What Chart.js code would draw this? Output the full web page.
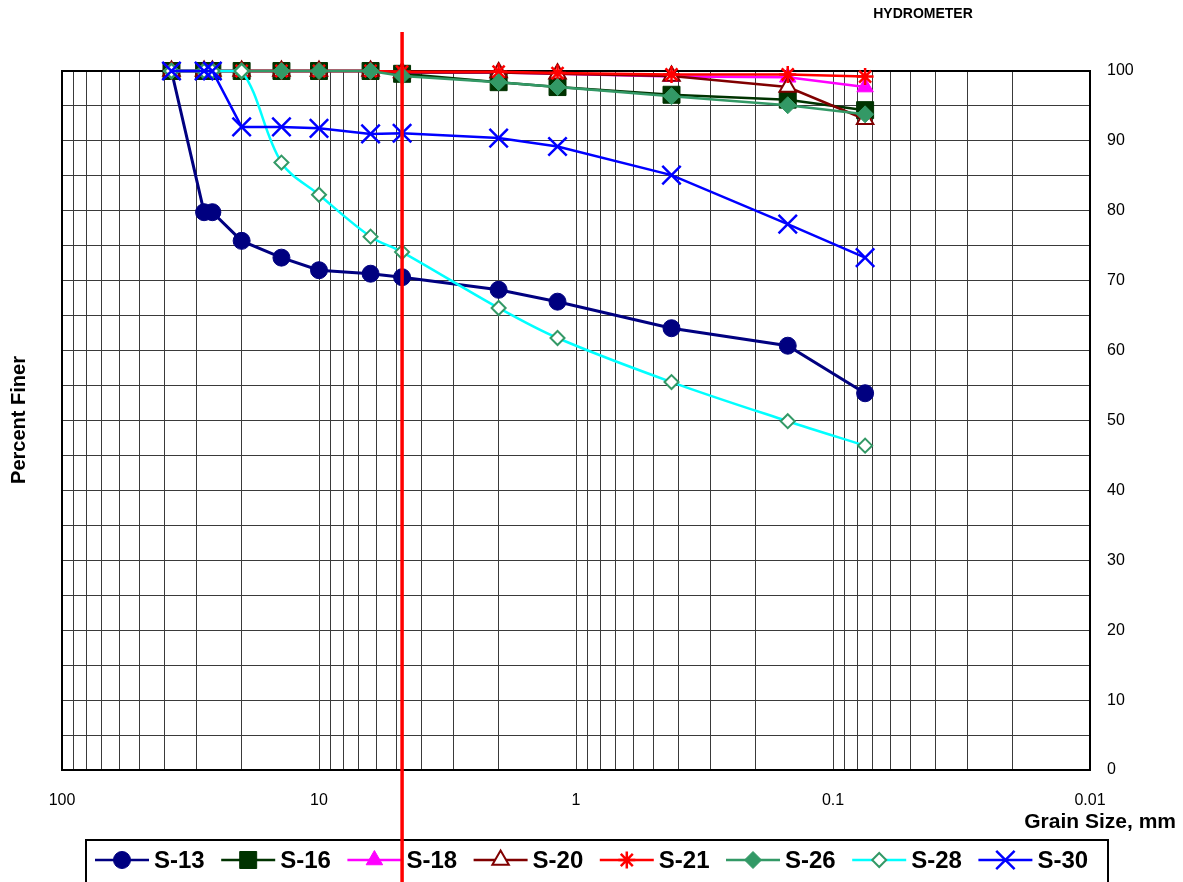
<!DOCTYPE html>
<html><head><meta charset="utf-8">
<script src="https://cdn.jsdelivr.net/npm/chart.js@4/dist/chart.umd.min.js"></script>
<style>html,body{margin:0;padding:0;background:#fff;overflow:hidden}#wrap{width:1183px;height:882px;position:relative}</style>
</head><body><div id="wrap"><canvas id="c" width="1183" height="882"></canvas></div>
<script>
// ---- data ----
const sieveSizes = [37.5, 28, 26, 20, 14, 10, 6.3, 4.75, 2.0, 1.18, 0.425, 0.15, 0.075];
const seriesNames = ['S-13', 'S-16', 'S-18', 'S-20', 'S-21', 'S-26', 'S-28', 'S-30'];
const s13 = [100, 79.8, 79.8, 75.7, 73.3, 71.5, 71.0, 70.5, 68.7, 67.0, 63.2, 60.7, 53.9];
const s16 = [100, 100, 100, 100, 100, 100, 100, 99.6, 98.4, 97.7, 96.6, 95.9, 94.4];
const s18 = [100, 100, 100, 100, 100, 100, 100, 99.8, 99.8, 99.6, 99.2, 99.1, 97.7];
const s20 = [100, 100, 100, 100, 100, 100, 100, 99.8, 99.8, 99.6, 99.3, 97.7, 93.1];
const s21 = [100, 100, 100, 100, 100, 100, 100, 99.9, 99.9, 99.7, 99.5, 99.5, 99.2];
const s26 = [100, 100, 100, 100, 100, 100, 100, 99.3, 98.4, 97.7, 96.4, 95.1, 93.8];
const s28 = [100, 100, 100, 100, 86.9, 82.3, 76.3, 74.1, 66.1, 61.8, 55.5, 49.9, 46.4];
const s30 = [100, 100, 100, 92.0, 92.0, 91.8, 91.0, 91.1, 90.4, 89.2, 85.1, 78.1, 73.3];
const seriesValues = [s13, s16, s18, s20, s21, s26, s28, s30];
const xTickLabels = [100, 10, 1, 0.1, 0.01];
const yTickLabels = [0, 10, 20, 30, 40, 50, 60, 70, 80, 90, 100];
const sieveLineSize = 4.75;
const yTitle = 'Percent Finer';
const xTitle = 'Grain Size, mm';
const topLabel = 'HYDROMETER';

// ---- styles ----
const FONT = "'Liberation Sans', Arial, Helvetica, sans-serif";
const styles = [
  {line:'#000080', pt:'circle',   r:8.5, fill:'#000080', border:'#000080', bw:1,   lw:3},
  {line:'#003300', pt:'rect',     r:12,  fill:'#003300', border:'#003300', bw:1,   lw:2.5},
  {line:'#FF00FF', pt:'triangle', r:9.5, fill:'#FF00FF', border:'#FF00FF', bw:1,   lw:2.5},
  {line:'#800000', pt:'triangle', r:9.5, fill:'#FFFFFF', border:'#800000', bw:2,   lw:2.5},
  {line:'#FF0000', pt:'star',     r:8.5, fill:'#FF0000', border:'#FF0000', bw:2.5, lw:2.5},
  {line:'#339966', pt:'rectRot',  r:8.5, fill:'#339966', border:'#339966', bw:1,   lw:2.5},
  {line:'#00FFFF', pt:'rectRot',  r:7,   fill:'#FFFFFF', border:'#339966', bw:2,   lw:2.5},
  {line:'#0000FF', pt:'crossRot', r:13,  fill:'#0000FF', border:'#0000FF', bw:2.5, lw:2.5}
];

const xGridValues = [];
for (let e = -2; e <= 1; e++) for (let m = 1; m <= 9; m++) xGridValues.push(parseFloat((m * Math.pow(10, e)).toPrecision(3)));
xGridValues.push(100);

const datasets = seriesNames.map((name, i) => {
  const st = styles[i];
  return {
    label: name,
    data: sieveSizes.map((s, k) => ({x: s, y: seriesValues[i][k]})),
    borderColor: st.line,
    borderWidth: st.lw,
    backgroundColor: st.fill,
    pointStyle: st.pt,
    pointRadius: st.r,
    pointBackgroundColor: st.fill,
    pointBorderColor: st.border,
    pointBorderWidth: st.bw,
    tension: name === 'S-28' ? 0.35 : 0,
    order: seriesNames.length - 1 - i,
    clip: false
  };
});

function drawMarker(ctx, st, x, y) {
  ctx.save();
  ctx.fillStyle = st.fill; ctx.strokeStyle = st.border; ctx.lineWidth = st.bw;
  if (Chart.helpers && Chart.helpers.drawPoint) {
    Chart.helpers.drawPoint(ctx, {pointStyle: st.pt, radius: st.r, borderWidth: st.bw, rotation: 0}, x, y);
  } else {
    ctx.beginPath(); ctx.arc(x, y, st.r, 0, Math.PI * 2); ctx.fill(); ctx.stroke();
  }
  ctx.restore();
}

const overlay = {
  id: 'overlay',
  beforeDatasetsDraw(chart) {
    const {ctx, chartArea: a} = chart;
    ctx.save();
    ctx.strokeStyle = '#000'; ctx.lineWidth = 2;
    ctx.strokeRect(a.left, a.top, a.right - a.left, a.bottom - a.top);
    ctx.restore();
  },
  afterDraw(chart) {
    const {ctx} = chart;
    ctx.save();
    // titles
    ctx.fillStyle = '#000';
    ctx.font = 'bold 20px ' + FONT;
    ctx.textAlign = 'center'; ctx.textBaseline = 'middle';
    ctx.save(); ctx.translate(19, 420); ctx.rotate(-Math.PI / 2); ctx.fillText(yTitle, 0, 0); ctx.restore();
    ctx.font = 'bold 21px ' + FONT;
    ctx.textAlign = 'right';
    ctx.fillText(xTitle, 1176, 822);
    ctx.font = 'bold 14px ' + FONT;
    ctx.textAlign = 'center';
    ctx.fillText(topLabel, 923, 14);
    // legend
    ctx.strokeStyle = '#000'; ctx.lineWidth = 2;
    ctx.strokeRect(86, 840, 1022, 60);
    const ly = 860;
    seriesNames.forEach((name, i) => {
      const st = styles[i];
      const x0 = 95 + i * 126.2;
      ctx.strokeStyle = st.line; ctx.lineWidth = 2.5;
      ctx.beginPath(); ctx.moveTo(x0, ly); ctx.lineTo(x0 + 54, ly); ctx.stroke();
      drawMarker(ctx, st, x0 + 27, ly);
      ctx.fillStyle = '#000';
      ctx.font = 'bold 24px ' + FONT;
      ctx.textAlign = 'left'; ctx.textBaseline = 'middle';
      ctx.fillText(name, x0 + 59, ly + 1);
    });
    // sieve #4 line
    const xs = chart.scales.x.getPixelForValue(sieveLineSize);
    ctx.strokeStyle = '#FF0000'; ctx.lineWidth = 3.5;
    ctx.beginPath(); ctx.moveTo(xs, 32); ctx.lineTo(xs, 882); ctx.stroke();
    ctx.restore();
  }
};

new Chart(document.getElementById('c'), {
  type: 'line',
  data: {datasets},
  options: {
    responsive: false, animation: false, devicePixelRatio: 1,
    layout: {padding: {left: 62, top: 71, right: 0, bottom: 0}},
    plugins: {legend: {display: false}, tooltip: {enabled: false}},
    scales: {
      x: {
        type: 'logarithmic', reverse: true, min: 0.01, max: 100,
        afterBuildTicks: (s) => { s.ticks = xGridValues.map(v => ({value: v})); },
        afterFit: (s) => { s.height = 112; },
        grid: {color: '#3a3a3a', lineWidth: 1, drawTicks: false},
        border: {display: true, color: '#000', width: 2},
        ticks: {
          autoSkip: false, maxRotation: 0, padding: 21, color: '#000',
          font: {family: FONT, size: 16},
          callback: function(val, idx, ticks) {
            const v = ticks[idx].value;
            const hit = xTickLabels.find(t => Math.abs(t - v) / t < 1e-6);
            return hit === undefined ? '' : String(hit);
          }
        }
      },
      y: {
        type: 'linear', position: 'right', min: 0, max: 100,
        afterFit: (s) => { s.width = 93; },
        grid: {color: '#3a3a3a', lineWidth: 1, drawTicks: false},
        border: {display: true, color: '#000', width: 2},
        ticks: {
          stepSize: 5, autoSkip: false, padding: 17, color: '#000',
          font: {family: FONT, size: 16},
          callback: (v) => yTickLabels.includes(v) ? String(v) : ''
        }
      }
    }
  },
  plugins: [overlay]
});
</script></body></html>
